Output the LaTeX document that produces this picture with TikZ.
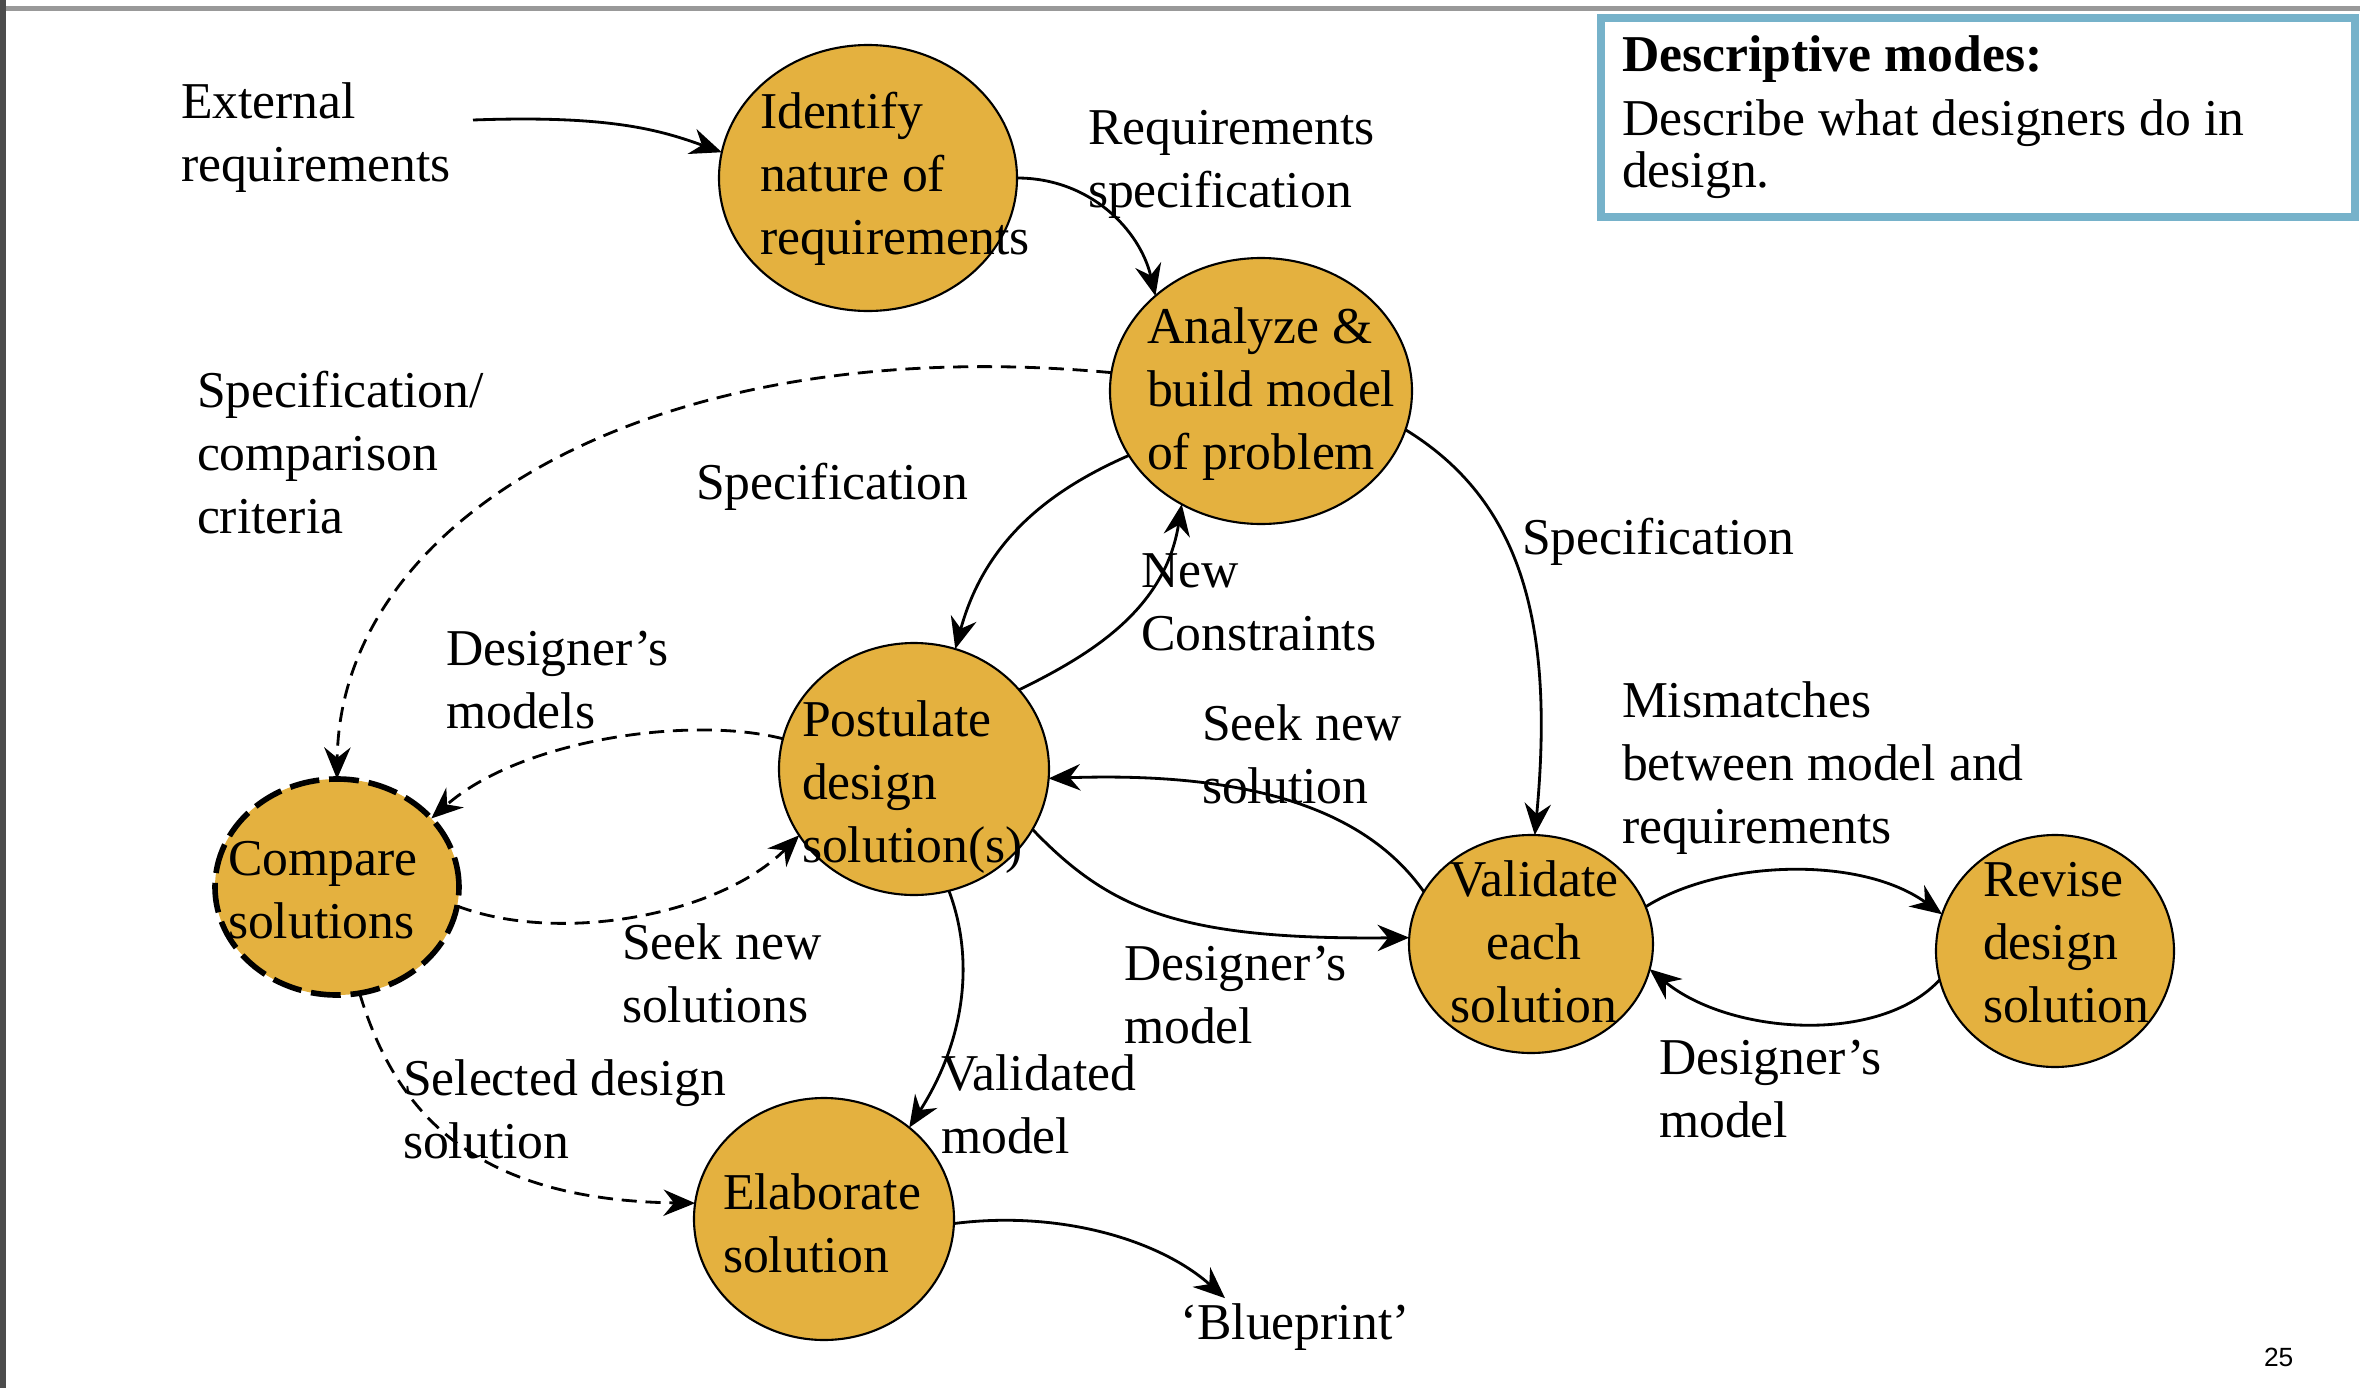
\documentclass[tikz,border=0pt]{standalone}
\usepackage{fontspec}
\setmainfont{Liberation Serif}
\newfontfamily\pagenumfont{Liberation Sans}
\usetikzlibrary{shapes.geometric,arrows.meta}
\definecolor{procfill}{RGB}{228,177,63}
\definecolor{boxblue}{RGB}{118,178,202}

\begin{document}
\begin{tikzpicture}[>={Stealth[length=9pt,width=7.5pt,inset=3pt]},
    every node/.style={font=\fontsize{14.7}{17.8}\selectfont,inner sep=0pt,outer sep=0pt},
    proc/.style={ellipse,draw,fill=procfill,line width=0.6pt},
    txt/.style={anchor=base west,align=left},
    flow/.style={->,line width=0.8pt},
    dflow/.style={flow,dash pattern=on 4.3pt off 2.5pt}]
  \useasboundingbox (0,0) rectangle (23.6,-13.88);
  % slide edges
  \fill[black!40] (0,-0.06) rectangle (23.6,-0.11);
  \fill[black!70] (0,0) rectangle (0.06,-13.88);

  % processes
  \node[proc,minimum width=2.98cm,minimum height=2.66cm] (ident) at (8.68,-1.78) {};
  \node[proc,minimum width=3.02cm,minimum height=2.66cm] (ana) at (12.61,-3.91) {};
  \node[proc,minimum width=2.70cm,minimum height=2.52cm] (post) at (9.14,-7.69) {};
  \node[proc,line width=1.6pt,dash pattern=on 8.5pt off 2.8pt,
        minimum width=2.44cm,minimum height=2.16cm] (comp) at (3.37,-8.87) {};
  \node[proc,minimum width=2.60cm,minimum height=2.42cm] (elab) at (8.24,-12.19) {};
  \node[proc,minimum width=2.44cm,minimum height=2.18cm] (valid) at (15.31,-9.44) {};
  \node[proc,minimum width=2.38cm,minimum height=2.32cm] (rev) at (20.55,-9.51) {};

  % texts in the processes (anchored at last baseline)
  \node[txt] (ident-t) at (7.60,-2.54) {Identify\\nature of\\requirements};
  \node[txt] (ana-t) at (11.47,-4.69) {Analyze \&\\build model\\of problem};
  \node[txt] (post-t) at (8.02,-8.62) {Postulate\\design\\solution(s)};
  \node[txt] (comp-t) at (2.28,-9.38) {Compare\\solutions};
  \node[txt] (elab-t) at (7.23,-12.72) {Elaborate\\solution};
  \node[anchor=base,align=center] (valid-t) at (15.34,-10.22) {Validate\\each\\solution};
  \node[txt] (rev-t) at (19.83,-10.22) {Revise\\design\\solution};

  % labels
  \node[txt] (ext) at (1.81,-1.81) {External\\requirements};
  \coordinate (ext-o) at (4.73,-1.20);
  \node[txt] (reqspec) at (10.88,-2.07) {Requirements\\specification};
  \node[txt] (crit) at (1.97,-5.33) {Specification/\\comparison\\criteria};
  \node[txt] (spec1) at (6.96,-4.99) {Specification};
  \node[txt] (newc) at (11.41,-6.50) {New\\Constraints};
  \node[txt] (spec2) at (15.22,-5.54) {Specification};
  \node[txt] (dmods) at (4.46,-7.28) {Designer’s\\models};
  \node[txt] (seek1) at (12.02,-8.03) {Seek new\\solution};
  \node[txt] (mism) at (16.22,-8.43) {Mismatches\\between model and\\requirements};
  \node[txt] (seek2) at (6.22,-10.22) {Seek new\\solutions};
  \node[txt] (dmod1) at (11.24,-10.43) {Designer’s\\model};
  \node[txt] (selsol) at (4.03,-11.58) {Selected design\\solution};
  \node[txt] (valm) at (9.41,-11.53) {Validated\\model};
  \node[txt] (dmod2) at (16.59,-11.37) {Designer’s\\model};
  \node[txt] (blue) at (11.80,-13.39) {‘Blueprint’};

  % descriptive modes box
  \draw[boxblue,line width=2.3pt] (16.01,-0.18) rectangle (23.55,-2.17);
  \node[txt] (modes) at (16.22,-0.71) {\textbf{Descriptive modes:}};
  \node[txt,font=\fontsize{14.7}{14.6}\selectfont] (modes-b) at (16.22,-1.87) {Describe what designers do in\\design.};
  \node[anchor=base west,font=\pagenumfont\fontsize{7.5}{9}\selectfont] (pg) at (22.64,-13.66) {25};

  % flows
  \draw[flow] (ext-o) .. controls (6.1,-1.15) and (6.6,-1.30) .. (ident.170);
  \draw[flow] (ident.0) .. controls (10.9,-1.78) and (11.4,-2.3) .. (ana.138);
  \draw[dflow] (ana.173) .. controls (6.5,-3.3) and (3.4,-5.2) .. (comp.north);
  \draw[flow] (ana.206) .. controls (10.5,-4.9) and (9.85,-5.4) .. (post.71);
  \draw[flow] (post.37) .. controls (10.9,-6.55) and (11.65,-6.1) .. (ana.235);
  \draw[flow] (ana.345) .. controls (15.2,-5.0) and (15.55,-6.2) .. (valid.88);
  \draw[dflow] (post.167) .. controls (6.9,-7.15) and (5.2,-7.4) .. (comp.36);
  \draw[dflow] (comp.351) .. controls (5.6,-9.45) and (7.2,-9.15) .. (post.210);
  \draw[flow] (valid.154) .. controls (13.8,-8.3) and (12.9,-7.7) .. (post.356);
  \draw[flow] (post.333) .. controls (11.1,-9.1) and (11.8,-9.4) .. (valid.177);
  \draw[flow] (post.286) .. controls (9.75,-9.6) and (9.65,-10.4) .. (elab.47);
  \draw[dflow] (comp.282) .. controls (3.95,-11.1) and (4.7,-12.0) .. (elab.173);
  \draw[flow] (elab.358) .. controls (10.6,-12.1) and (11.6,-12.4) .. ([xshift=0.45cm,yshift=0.05cm]blue.north west);
  \draw[flow] (valid.18) .. controls (17.2,-8.6) and (18.6,-8.55) .. (rev.162);
  \draw[flow] (rev.194) .. controls (18.8,-10.45) and (17.3,-10.35) .. (valid.348);
\end{tikzpicture}
\end{document}
